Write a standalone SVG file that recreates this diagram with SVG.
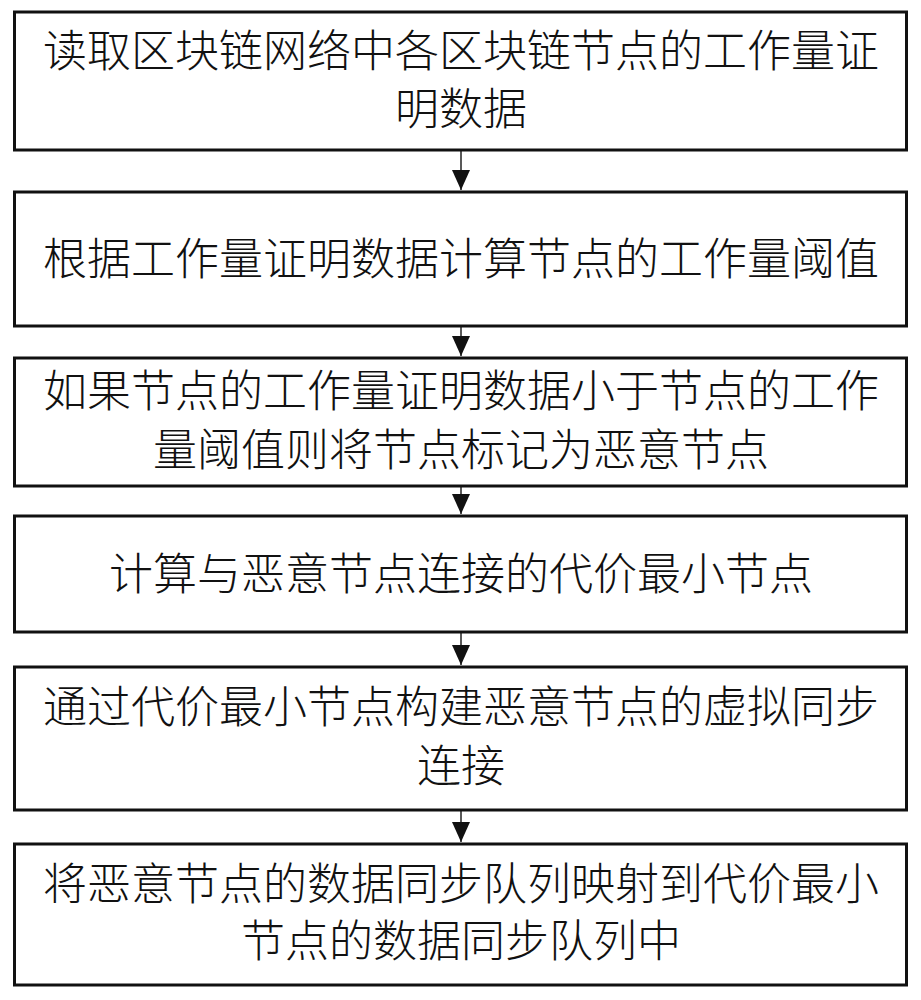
<svg xmlns="http://www.w3.org/2000/svg" width="921" height="1000" viewBox="0 0 921 1000">
<style>
.box{fill:#ffffff;stroke:#111111;stroke-width:3}
.t{font-family:"Liberation Serif","Noto Sans CJK SC",serif;font-size:44px;font-weight:300;fill:#111111;text-anchor:middle}
.c{stroke:#222222;stroke-width:1.5;fill:none}
</style>
<defs>
<marker id="ah" markerUnits="userSpaceOnUse" markerWidth="22" markerHeight="20" refX="20" refY="10" orient="auto" viewBox="0 0 22 20">
<path d="M0,1 L20,10 L0,19 Z" fill="#111111"/>
</marker>
</defs>
<rect width="921" height="1000" fill="#ffffff"/>
<g id="connectors">
<line class="c" x1="461" y1="151" x2="461" y2="190" marker-end="url(#ah)"/>
<line class="c" x1="461" y1="327" x2="461" y2="356" marker-end="url(#ah)"/>
<line class="c" x1="461" y1="487" x2="461" y2="514" marker-end="url(#ah)"/>
<line class="c" x1="461" y1="633" x2="461" y2="665" marker-end="url(#ah)"/>
<line class="c" x1="461" y1="811" x2="461" y2="842" marker-end="url(#ah)"/>
</g>
<g id="n1">
<rect class="box" x="14.5" y="12" width="892" height="138"/>
<text class="t" x="461" y="67">读取区块链网络中各区块链节点的工作量证</text>
<text class="t" x="461" y="125">明数据</text>
</g>
<g id="n2">
<rect class="box" x="14.5" y="192" width="892" height="134"/>
<text class="t" x="461" y="275">根据工作量证明数据计算节点的工作量阈值</text>
</g>
<g id="n3">
<rect class="box" x="14.5" y="358" width="892" height="128"/>
<text class="t" x="461" y="407">如果节点的工作量证明数据小于节点的工作</text>
<text class="t" x="461" y="466">量阈值则将节点标记为恶意节点</text>
</g>
<g id="n4">
<rect class="box" x="14.5" y="516" width="892" height="116"/>
<text class="t" x="461" y="590">计算与恶意节点连接的代价最小节点</text>
</g>
<g id="n5">
<rect class="box" x="14.5" y="667" width="892" height="143"/>
<text class="t" x="461" y="723">通过代价最小节点构建恶意节点的虚拟同步</text>
<text class="t" x="461" y="782">连接</text>
</g>
<g id="n6">
<rect class="box" x="14.5" y="844" width="892" height="141"/>
<text class="t" x="461" y="900">将恶意节点的数据同步队列映射到代价最小</text>
<text class="t" x="461" y="957">节点的数据同步队列中</text>
</g>
</svg>
